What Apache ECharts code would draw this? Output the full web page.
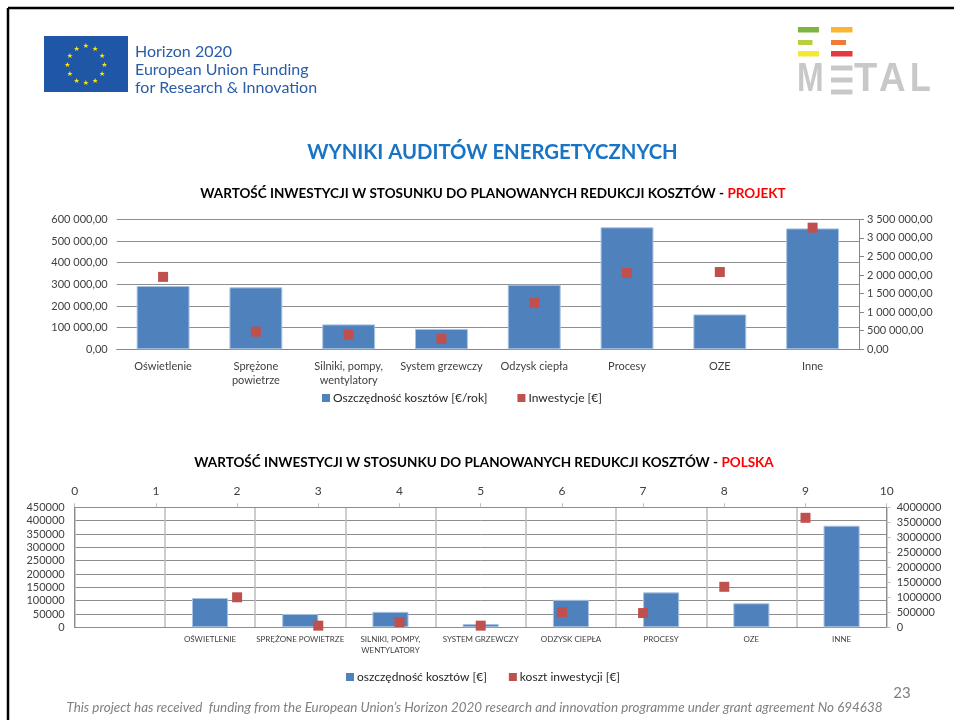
<!DOCTYPE html>
<html>
<head>
<meta charset="utf-8">
<script src="https://cdn.jsdelivr.net/npm/echarts@6/dist/echarts.min.js"></script>
<style>
html,body{margin:0;padding:0;background:#fff;}
#c{width:954px;height:720px;}
</style>
</head>
<body>
<div id="c"></div>
<script>
// ---- Chart 1 (PROJEKT) data ----
var projCategories = ['Oświetlenie', 'Sprężone\npowietrze', 'Silniki, pompy,\nwentylatory', 'System grzewczy', 'Odzysk ciepła', 'Procesy', 'OZE', 'Inne'];
var projSavings = [292000, 286000, 115000, 94000, 298000, 563000, 161000, 558000];
var projInvest = [1950000, 475000, 395000, 280000, 1245000, 2055000, 2080000, 3275000];
var projLeftAxis = {min: 0, max: 600000, interval: 100000};
var projRightAxis = {min: 0, max: 3500000, interval: 500000};

// ---- Chart 2 (POLSKA) data ----
var plCategories = ['', 'OŚWIETLENIE', 'SPRĘŻONE POWIETRZE', 'SILNIKI, POMPY,\nWENTYLATORY', 'SYSTEM GRZEWCZY', 'ODZYSK CIEPŁA', 'PROCESY', 'OZE', 'INNE'];
var plSavings = [null, 110000, 50000, 58000, 12000, 103000, 131000, 90000, 381000];
var plInvestX = [2, 3, 4, 5, 6, 7, 8, 9];
var plInvest = [1000000, 55000, 175000, 55000, 510000, 475000, 1350000, 3650000];
var plTopAxis = {min: 0, max: 10, interval: 1};
var plLeftAxis = {min: 0, max: 450000, interval: 50000};
var plRightAxis = {min: 0, max: 4000000, interval: 500000};

var FONT = 'Lato, "Open Sans", sans-serif';
var BLUE = '#4F81BD', RED = '#C0504D';

function fmtPL(v) {
  return v.toFixed(2).replace('.', ',').replace(/\B(?=(\d{3})+(?!\d))/g, ' ');
}
function fmtRaw(v) { return String(v); }

var plInvestData = plInvestX.map(function (x, i) { return [x, plInvest[i]]; });

// ---- decorative graphics (slide) ----
var graphics = [];
graphics.push({type: 'line', shape: {x1: 8, y1: 8, x2: 954, y2: 8}, style: {stroke: '#000', lineWidth: 2.5}, silent: true});
graphics.push({type: 'line', shape: {x1: 8, y1: 8, x2: 8, y2: 720}, style: {stroke: '#000', lineWidth: 2.5}, silent: true});
// EU flag
graphics.push({type: 'rect', shape: {x: 44, y: 36, width: 84, height: 56}, style: {fill: '#1F57A6'}, silent: true});
for (var k = 0; k < 12; k++) {
  var a = k * Math.PI / 6;
  graphics.push({type: 'text', x: 86 + 18.5 * Math.sin(a), y: 65 - 18.5 * Math.cos(a),
    style: {text: '★', fill: '#FFE800', font: '7px "DejaVu Sans"', align: 'center', verticalAlign: 'middle'}, silent: true});
}
var horizonLines = ['Horizon 2020', 'European Union Funding', 'for Research & Innovation'];
var horizonY = [52, 70, 87.5];
horizonLines.forEach(function (t, i) {
  graphics.push({type: 'text', x: 135, y: horizonY[i], style: {text: t, fill: '#2A5CA8', font: '16px ' + FONT, align: 'left', verticalAlign: 'middle'}, silent: true});
});
// METAL logo
var metalBars = [
  [798, 27, 21, 5.5, '#7DB442'], [831, 27, 21.5, 5.5, '#F9B533'],
  [798, 40, 14.5, 5, '#B9CF3E'], [831, 40, 15, 5, '#F07C38'],
  [798, 51, 21, 5.5, '#F5E832'], [831, 51, 21.5, 5.5, '#E4393E']
];
metalBars.forEach(function (b) {
  graphics.push({type: 'rect', shape: {x: b[0], y: b[1], width: b[2], height: b[3]}, style: {fill: b[4]}, silent: true});
});
var GREY = '#C8C8C8';
var LOGOFONT = 'bold 40px "Liberation Sans"';
graphics.push({type: 'text', x: 797, y: 80, scaleX: 0.8, style: {text: 'M', fill: GREY, font: LOGOFONT, align: 'left', verticalAlign: 'middle'}, silent: true});
graphics.push({type: 'rect', shape: {x: 831, y: 65.5, width: 21.5, height: 5}, style: {fill: GREY}, silent: true});
graphics.push({type: 'rect', shape: {x: 831, y: 77.5, width: 21.5, height: 5}, style: {fill: GREY}, silent: true});
graphics.push({type: 'rect', shape: {x: 831, y: 89.5, width: 21.5, height: 5}, style: {fill: GREY}, silent: true});
graphics.push({type: 'text', x: 854, y: 80, scaleX: 0.95, style: {text: 'T', fill: GREY, font: LOGOFONT, align: 'left', verticalAlign: 'middle'}, silent: true});
graphics.push({type: 'text', x: 879, y: 80, scaleX: 0.92, style: {text: 'A', fill: GREY, font: LOGOFONT, align: 'left', verticalAlign: 'middle'}, silent: true});
graphics.push({type: 'text', x: 910, y: 80, scaleX: 0.85, style: {text: 'L', fill: GREY, font: LOGOFONT, align: 'left', verticalAlign: 'middle'}, silent: true});
// titles
graphics.push({type: 'text', x: 492.5, y: 152, style: {text: 'WYNIKI AUDITÓW ENERGETYCZNYCH', fill: '#1874C4', font: 'bold 20.3px ' + FONT, align: 'center', verticalAlign: 'middle'}, silent: true});
graphics.push({type: 'text', x: 493, y: 194, style: {
  text: '{a|WARTOŚĆ INWESTYCJI W STOSUNKU DO PLANOWANYCH REDUKCJI KOSZTÓW - }{b|PROJEKT}',
  rich: {a: {fill: '#000', font: 'bold 13.5px ' + FONT}, b: {fill: '#FF0000', font: 'bold 13.5px ' + FONT}},
  align: 'center', verticalAlign: 'middle'}, silent: true});
graphics.push({type: 'text', x: 484, y: 463, style: {
  text: '{a|WARTOŚĆ INWESTYCJI W STOSUNKU DO PLANOWANYCH REDUKCJI KOSZTÓW - }{b|POLSKA}',
  rich: {a: {fill: '#000', font: 'bold 13.5px ' + FONT}, b: {fill: '#FF0000', font: 'bold 13.5px ' + FONT}},
  align: 'center', verticalAlign: 'middle'}, silent: true});
// footer
graphics.push({type: 'text', x: 474.5, y: 708, style: {text: 'This project has received  funding from the European Union\u2019s Horizon 2020 research and innovation programme under grant agreement No 694638', fill: '#7F7F7F', font: 'italic 13.4px ' + FONT, align: 'center', verticalAlign: 'middle'}, silent: true});
graphics.push({type: 'text', x: 902, y: 693, style: {text: '23', fill: '#7F7F7F', font: '15px ' + FONT, align: 'center', verticalAlign: 'middle'}, silent: true});

var axisLabelBase = {fontFamily: FONT, color: '#404040'};

var option = {
  animation: false,
  backgroundColor: '#fff',
  textStyle: {fontFamily: FONT},
  graphic: graphics,
  grid: [
    {left: 116.7, top: 219.3, width: 742.3, height: 130},
    {left: 74.7, top: 507.3, width: 812, height: 120}
  ],
  legend: [
    {data: ['Oszczędność kosztów [€/rok]', 'Inwestycje [€]'], left: 322, top: 392, icon: 'rect', itemWidth: 8, itemHeight: 8, itemGap: 30, padding: 0,
      itemStyle: {borderWidth: 0},
      textStyle: {fontFamily: FONT, fontSize: 12, color: '#262626', padding: [0, 0, 0, -2]}},
    {data: ['oszczędność kosztów [€]', 'koszt inwestycji [€]'], left: 346, top: 671, icon: 'rect', itemWidth: 8, itemHeight: 8, itemGap: 22, padding: 0,
      itemStyle: {borderWidth: 0},
      textStyle: {fontFamily: FONT, fontSize: 12, color: '#262626', padding: [0, 0, 0, -2]}}
  ],
  xAxis: [
    {type: 'category', gridIndex: 0, data: projCategories, position: 'bottom',
      axisLine: {show: true, lineStyle: {color: '#868686'}}, axisTick: {show: false},
      axisLabel: Object.assign({fontSize: 11, interval: 0, margin: 10, lineHeight: 14}, axisLabelBase),
      splitLine: {show: false}},
    {type: 'category', gridIndex: 1, data: plCategories, position: 'bottom',
      axisLine: {show: true, lineStyle: {color: '#8C8C8C'}}, axisTick: {show: false},
      axisLabel: Object.assign({fontSize: 8, interval: 0, margin: 7, lineHeight: 11}, axisLabelBase),
      splitLine: {show: true, interval: 0, lineStyle: {color: '#BDBDBD', width: 1.5}}},
    {type: 'value', gridIndex: 1, position: 'top', min: plTopAxis.min, max: plTopAxis.max, interval: plTopAxis.interval,
      axisLine: {show: true, onZero: false, lineStyle: {color: '#8C8C8C'}},
      axisTick: {show: true, length: 4, lineStyle: {color: '#BDBDBD'}},
      axisLabel: Object.assign({fontSize: 12, margin: 10, formatter: fmtRaw}, axisLabelBase),
      splitLine: {show: false}}
  ],
  yAxis: [
    {type: 'value', gridIndex: 0, position: 'left', min: projLeftAxis.min, max: projLeftAxis.max, interval: projLeftAxis.interval,
      axisLine: {show: false}, axisTick: {show: false},
      axisLabel: Object.assign({fontSize: 11, margin: 9, formatter: fmtPL}, axisLabelBase),
      splitLine: {show: true, lineStyle: {color: '#8E8E8E'}}},
    {type: 'value', gridIndex: 0, position: 'right', min: projRightAxis.min, max: projRightAxis.max, interval: projRightAxis.interval,
      axisLine: {show: true, lineStyle: {color: '#868686'}}, axisTick: {show: true, length: 5, lineStyle: {color: '#868686'}},
      axisLabel: Object.assign({fontSize: 11, margin: 8, formatter: fmtPL}, axisLabelBase),
      splitLine: {show: false}},
    {type: 'value', gridIndex: 1, position: 'left', min: plLeftAxis.min, max: plLeftAxis.max, interval: plLeftAxis.interval,
      axisLine: {show: true, onZero: false, lineStyle: {color: '#8C8C8C'}}, axisTick: {show: false},
      axisLabel: Object.assign({fontSize: 11, margin: 10, formatter: fmtRaw}, axisLabelBase),
      splitLine: {show: true, lineStyle: {color: '#8C8C8C'}}},
    {type: 'value', gridIndex: 1, position: 'right', min: plRightAxis.min, max: plRightAxis.max, interval: plRightAxis.interval,
      axisLine: {show: true, onZero: false, lineStyle: {color: '#8C8C8C'}}, axisTick: {show: true, length: 4, lineStyle: {color: '#BDBDBD'}},
      axisLabel: Object.assign({fontSize: 11, margin: 10, formatter: fmtRaw}, axisLabelBase),
      splitLine: {show: false}}
  ],
  series: [
    {name: 'Oszczędność kosztów [€/rok]', type: 'bar', xAxisIndex: 0, yAxisIndex: 0, data: projSavings, barWidth: '57%',
      itemStyle: {color: BLUE, borderColor: '#A9C2E2', borderWidth: 1}},
    {name: 'Inwestycje [€]', type: 'scatter', xAxisIndex: 0, yAxisIndex: 1, data: projInvest, symbol: 'rect', symbolSize: 10,
      itemStyle: {color: RED, opacity: 1}},
    {name: 'oszczędność kosztów [€]', type: 'bar', xAxisIndex: 1, yAxisIndex: 2, data: plSavings, barWidth: '40%',
      itemStyle: {color: BLUE, borderColor: '#A9C2E2', borderWidth: 1}},
    {name: 'koszt inwestycji [€]', type: 'scatter', xAxisIndex: 2, yAxisIndex: 3, data: plInvestData, symbol: 'rect', symbolSize: 10,
      itemStyle: {color: RED, opacity: 1}}
  ]
};

var chart = echarts.init(document.getElementById('c'), null, {renderer: 'canvas'});
chart.setOption(option);
</script>
</body>
</html>
